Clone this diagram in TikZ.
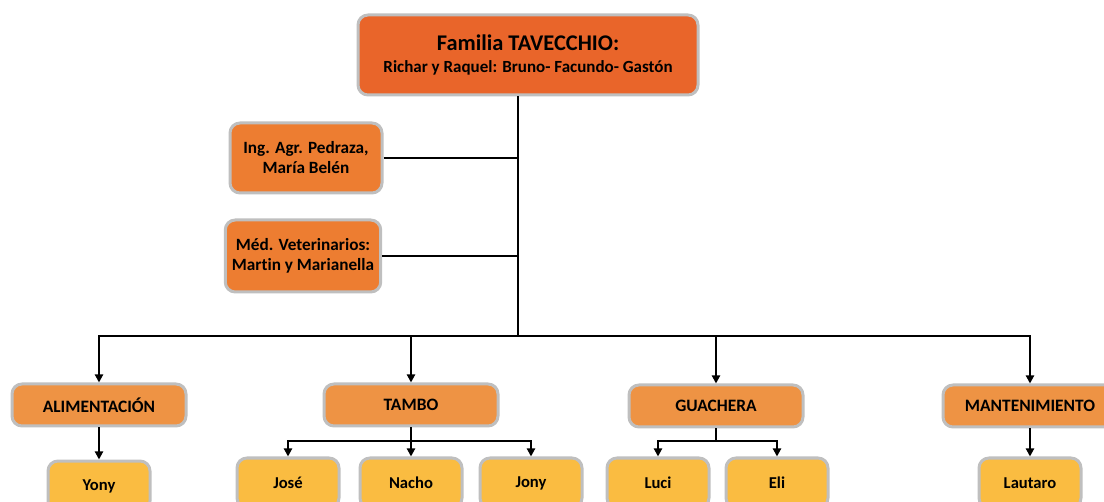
\documentclass[tikz,border=0pt]{standalone}
\usepackage{fontspec}
\setmainfont[Ligatures=NoCommon]{Carlito}
\usepackage{tikz}
\usetikzlibrary{arrows.meta}

\definecolor{jefe}{RGB}{233,101,42}
\definecolor{asesor}{RGB}{237,125,49}
\definecolor{sector}{RGB}{238,147,68}
\definecolor{persona}{RGB}{250,188,65}
\definecolor{borde}{RGB}{191,191,191}

\begin{document}
\begin{tikzpicture}[x=0.5pt, y=-0.5pt, >={Triangle[length=4pt,width=4pt]},
   caja/.style={draw=borde, line width=1.5pt, rounded corners=5pt, align=center, font=\bfseries},
   jefebox/.style={caja, fill=jefe, minimum width=170pt, minimum height=40pt},
   asesorbox/.style={caja, fill=asesor, minimum width=76pt, minimum height=35pt, font=\bfseries\fontsize{8.6}{10}\selectfont},
   sectorbox/.style={caja, fill=sector, minimum width=87pt, minimum height=21pt, font=\bfseries\fontsize{8.7}{10}\selectfont},
   personabox/.style={caja, fill=persona, minimum width=51pt, minimum height=25pt, font=\bfseries\fontsize{8.3}{10}\selectfont},
   linea/.style={line width=1pt}]
   \useasboundingbox (0,0) rectangle (1104,502);

   \node[jefebox] (familia) at (528,55) {{\fontsize{11.2}{12}\selectfont Familia TAVECCHIO:}\\[-1pt]
      {\fontsize{8.5}{10}\selectfont Richar y Raquel: Bruno- Facundo- Gastón}};
   \node[asesorbox] (ing) at (306,158) {Ing. Agr. Pedraza,\\María Belén};
   \node[asesorbox, minimum height=36pt] (med) at (303,256) {Méd. Veterinarios:\\Martin y Marianella};

   \node[sectorbox] (alim) at (99,405) {ALIMENTACIÓN};
   \node[sectorbox] (tambo) at (411,405) {TAMBO};
   \node[sectorbox] (guach) at (716,406) {GUACHERA};
   \node[sectorbox] (mant) at (1030,406) {MANTENIMIENTO};

   \node[personabox] (yony) at (99,486) {Yony};
   \node[personabox] (jose) at (288,483) {José};
   \node[personabox] (nacho) at (411,483) {Nacho};
   \node[personabox] (jony) at (531,483) {Jony};
   \node[personabox] (luci) at (658,483) {Luci};
   \node[personabox] (eli) at (777,483) {Eli};
   \node[personabox] (lautaro) at (1030,483) {Lautaro};

   \coordinate (barra) at (518,336);
   \draw[linea] (familia.south -| barra) -- (barra);
   \draw[linea] (ing.east) -- (ing.east -| barra);
   \draw[linea] (med.east) -- (med.east -| barra);

   \draw[linea, ->] (barra) -| (alim.north);
   \draw[linea, ->] (barra) -| (tambo.north);
   \draw[linea, ->] (barra) -| (guach.north);
   \draw[linea, ->] (barra) -| (mant.north);

   \draw[linea, ->] (alim.south) -- (yony.north);
   \draw[linea, ->] (tambo.south) -- (nacho.north);
   \draw[linea, ->] (tambo.south) -- ++(0,14) -| (jose.north);
   \draw[linea, ->] (tambo.south) -- ++(0,14) -| (jony.north);
   \draw[linea, ->] (guach.south) -- ++(0,13) -| (luci.north);
   \draw[linea, ->] (guach.south) -- ++(0,13) -| (eli.north);
   \draw[linea, ->] (mant.south) -- (lautaro.north);
\end{tikzpicture}
\end{document}
